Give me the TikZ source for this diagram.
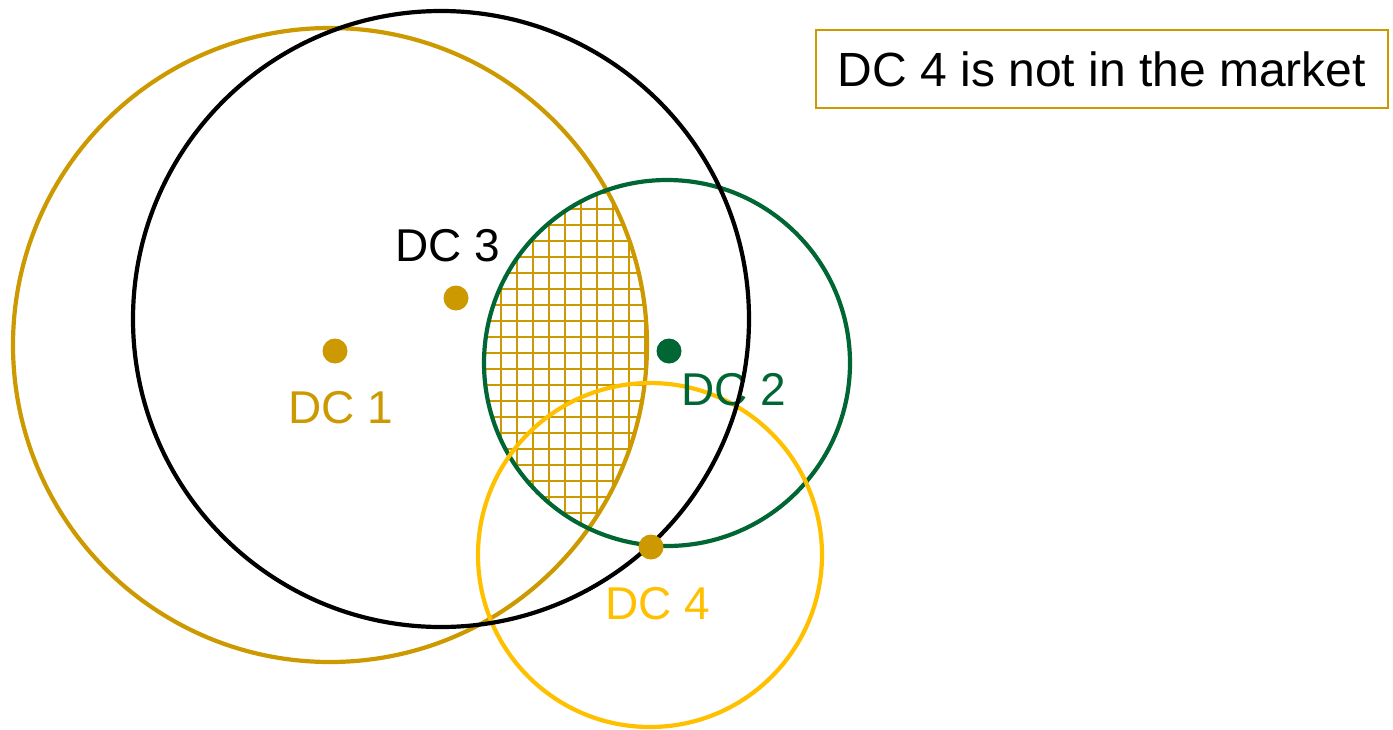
\documentclass[tikz,border=0pt]{standalone}
\usepackage{fontspec}
\setmainfont{Liberation Sans}
\definecolor{dcgold}{HTML}{CC9900}
\definecolor{dcgreen}{HTML}{006633}
\definecolor{dcyellow}{HTML}{FFC000}
\tikzset{
  ring/.style={line width=2.1pt},
  dot/.style={circle, fill=#1, inner sep=0pt, minimum size=12.5pt},
  lbl/.style={text=#1, font=\fontsize{23}{27}\selectfont, inner sep=0pt},
  hatchline/.style={draw=dcgold, line width=1pt}
}
\begin{document}
\begin{tikzpicture}[x=0.5pt,y=-0.5pt]
\useasboundingbox (0,0) rectangle (1393,729);
% hatched region: DC1 circle intersect DC2 circle
\begin{scope}
  \clip (330,345) circle[radius=158.5pt];
  \clip (667,363) circle[radius=91.5pt];
  \foreach \xx in {13,...,60} { \draw[hatchline] (16*\xx+5,0) -- (16*\xx+5,729); }
  \foreach \yy in {0,...,46} { \draw[hatchline] (0,16*\yy+1) -- (1393,16*\yy+1); }
\end{scope}
% catchment circles
\draw[ring, draw=dcgold] (330,345) circle[radius=158.5pt];
\draw[ring, draw=dcgreen] (667,363) circle[radius=91.5pt];
\draw[ring, draw=dcyellow] (650,555) circle[radius=86pt];
% labels
\node[lbl=black] (l3) at (448,246) {DC 3};
\node[lbl=dcgold] (l1) at (341,408) {DC 1};
\node[lbl=dcgreen] (l2) at (734,390) {DC 2};
\node[lbl=dcyellow] (l4) at (658,604) {DC 4};
\draw[ring, draw=black] (441,319) circle[radius=154pt];
% DC points
\node[dot=dcgold] (d1) at (335,351) {};
\node[dot=dcgold] (d3) at (456,298) {};
\node[dot=dcgreen] (d2) at (669,351) {};
\node[dot=dcgold] (d4) at (651,547) {};
% note box
\node[draw=dcgold, line width=1.2pt, minimum width=286pt, minimum height=39pt, inner sep=0pt,
      font=\fontsize{24}{28}\selectfont] (note) at (1102,69) {DC 4 is not in the market};
\end{tikzpicture}
\end{document}
